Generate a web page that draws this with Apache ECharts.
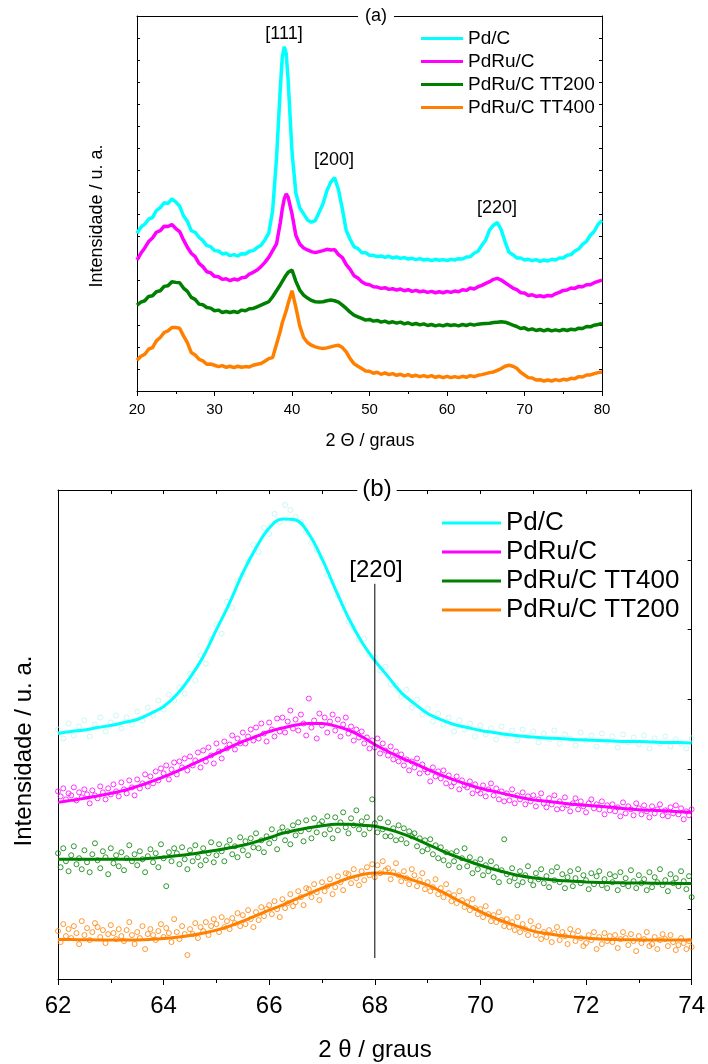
<!DOCTYPE html>
<html>
<head>
<meta charset="utf-8">
<script src="https://cdn.jsdelivr.net/npm/echarts@6/dist/echarts.min.js"></script>
<style>
  html, body { margin: 0; padding: 0; background: #fff; }
  #chart { width: 708px; height: 1064px; }
</style>
</head>
<body>
<div id="chart"></div>
<script>
// ---------- (a) full diffractograms, 2θ = 20–80° ----------
const xA = [
  20,20.5,21,21.5,22,22.5,23,23.5,24,24.5,
  25,25.5,26,26.5,27,27.5,28,28.5,29,29.5,
  30,30.5,31,31.5,32,32.5,33,33.5,34,34.5,
  35,35.5,36,36.5,37,37.5,38,38.5,38.75,39,
  39.25,39.5,40,40.5,41,41.5,42,42.5,43,43.5,
  44,44.5,45,45.5,46,46.5,47,47.5,48,48.5,
  49,49.5,50,50.5,51,51.5,52,52.5,53,53.5,
  54,54.5,55,55.5,56,56.5,57,57.5,58,58.5,
  59,59.5,60,60.5,61,61.5,62,62.5,63,63.5,
  64,64.5,65,65.5,66,66.5,67,67.5,68,68.5,
  69,69.5,70,70.5,71,71.5,72,72.5,73,73.5,
  74,74.5,75,75.5,76,76.5,77,77.5,78,78.5,
  79,79.5,80
];
const pdC_A = [
  472,490,499,514,519,540,549,563,561,575,
  566,553,524,508,480,475,460,450,435,432,
  420,419,410,412,405,408,404,411,410,418,
  420,429,436,452,472,540,695,910,1000,1030,
  1010,930,715,592,548,530,512,505,510,535,
  560,599,625,638,602,544,480,454,432,426,
  414,414,406,406,402,404,400,403,398,401,
  397,399,395,397,393,396,392,394,390,394,
  391,393,390,394,392,396,395,401,402,412,
  418,436,452,482,496,504,482,446,415,408,
  398,398,392,394,390,393,388,392,389,394,
  392,398,398,406,408,419,425,439,448,466,
  478,499,510
];
const pdRuC_A = [
  392,412,428,447,458,475,480,493,492,498,
  486,477,452,430,412,402,382,372,357,354,
  343,342,334,336,330,335,332,339,340,350,
  355,362,372,385,400,420,440,505,545,575,
  590,580,530,465,440,428,422,417,414,417,
  420,424,422,423,408,399,378,364,345,338,
  327,320,318,312,311,307,309,304,306,302,
  305,300,303,298,301,297,299,295,298,294,
  297,294,298,295,299,297,303,301,308,305,
  312,316,322,327,334,337,332,324,316,308,
  303,294,293,286,288,283,285,282,286,284,
  291,295,301,302,308,307,313,312,318,318,
  324,328,332
];
const tt200_A = [
  257,266,270,283,285,297,300,313,315,327,
  325,324,308,298,280,274,260,258,250,248,
  240,242,235,238,235,238,235,242,240,246,
  247,252,257,262,267,282,300,318,328,338,
  347,355,362,328,302,287,278,271,267,266,
  267,270,272,270,266,257,247,236,227,222,
  217,212,214,209,211,206,209,204,207,203,
  206,201,204,199,202,198,201,196,199,195,
  198,195,199,196,198,195,199,196,200,197,
  200,201,202,203,205,206,207,206,202,197,
  193,187,189,183,186,181,184,180,184,180,
  183,180,184,181,185,183,188,187,193,192,
  197,199,202
];
const tt400_A = [
  92,104,110,125,130,150,160,175,180,190,
  190,188,165,145,115,108,95,90,80,81,
  77,73,76,71,74,70,74,71,73,72,
  77,80,82,89,97,100,140,180,205,222,
  240,262,300,250,195,160,145,137,132,129,
  127,129,132,135,137,130,117,97,82,74,
  67,60,59,53,56,50,54,49,52,47,
  50,45,49,44,47,43,46,42,46,41,
  44,40,44,40,43,40,44,41,46,43,
  47,49,52,55,57,62,67,74,77,74,
  68,56,48,40,39,33,34,30,33,30,
  34,31,35,33,38,37,43,42,48,48,
  52,55,57
];

// ---------- (b) [220] region, 2θ = 62–74° ----------
const scanStart = 62, scanStep = 0.05;      // measured points
const pdC_scanStep = 0.1;
const fitStep = 0.25;                        // fitted profiles

const pdC_pts = [
  250,241,256,244,253,259,243,255,262,248,
  257,264,251,262,255,268,259,272,264,279,
  270,285,279,292,286,306,299,324,316,341,
  355,346,378,372,399,405,418,435,428,452,
  446,466,458,475,470,463,458,448,437,430,
  422,405,398,384,376,358,352,340,341,325,
  322,309,313,295,294,283,290,272,280,265,
  271,258,266,255,262,248,259,250,256,243,
  254,245,251,240,253,244,249,239,250,243,
  248,237,246,240,249,236,245,241,234,247,
  239,244,233,246,238,243,232,245,237,242,
  235,244,231,241,236,243,233,240,236,231,
  241
];
const pdRuC_pts = [
  188,183,191,180,186, 184,192,179,187,182, 190,185,176,189,184, 181,193,187,180,191,
  185,195,188,183,197, 190,186,199,192,184, 200,191,196,205,193, 203,196,208,199,211,
  206,214,200,210,217, 205,218,212,221,209, 223,214,219,227,212, 229,218,232,224,216,
  236,228,221,238,231, 235,244,230,241,236, 247,236,243,250,239, 252,241,256,246,238,
  257,250,243,261,248, 262,247,258,269,251, 260,249,265,256,244, 281,252,259,241,266,
  254,262,247,258,265, 249,260,243,255,262, 246,253,239,250,242, 248,236,242,231,239,
  232,241,226,236,229, 224,233,220,228,218, 225,214,220,209,218, 212,221,206,215,210,
  207,198,212,203,208, 201,209,196,204,193, 197,203,190,199,194, 192,198,186,195,189,
  186,194,183,190,196, 184,191,180,188,178, 186,179,190,176,184, 180,187,175,183,178,
  184,173,180,186,176, 172,181,175,184,170, 178,171,182,174,168, 176,181,170,178,173,
  167,176,180,171,175, 170,178,165,174,169, 175,168,172,163,177, 166,173,170,164,176,
  171,165,174,168,162, 173,166,170,175,164, 169,163,172,166,174, 165,171,160,168,164,
  170
];
const tt400_pts = [
  126,112,131,118,108, 124,133,115,121,110, 129,117,107,125,136, 119,111,128,122,105,
  131,116,124,113,127, 109,121,134,118,125, 114,128,120,107,123, 130,117,126,112,135,
  121,93,127,118,131, 126,115,132,120,110, 129,118,134,122,114, 131,119,126,137,117,
  124,135,128,118,133, 139,125,133,122,142, 129,138,124,141,132, 146,131,139,127,143,
  136,150,141,130,147, 152,139,148,135,154, 144,157,148,138,159, 150,141,161,147,155,
  158,145,163,150,141, 162,149,157,167,152, 146,161,154,169,150, 158,145,162,151,180,
  156,147,161,150,143, 157,143,151,139,154, 140,151,136,148,143, 146,133,141,128,139,
  130,140,125,134,121, 132,119,127,114,126, 118,128,112,121,131, 113,122,106,117,110,
  120,104,114,108,118, 102,112,97,109,140, 105,98,111,101,94, 108,97,104,113,99,
  94,106,100,110,96, 103,92,108,99,112, 97,105,91,102,108, 93,101,110,96,104,
  99,90,106,95,103, 108,94,100,91,105, 97,103,89,107,95, 101,93,109,98,91,
  104,96,100,89,107, 92,102,97,110,94, 99,88,105,96,101, 93,108,98,90,103,
  82
];
const tt200_pts = [
  48,37,55,43,50, 41,53,46,35,58, 44,51,39,47,56, 52,42,49,36,45,
  54,46,40,50,43, 38,49,57,44,35, 47,41,53,30,45, 50,44,39,48,55,
  42,51,46,37,60, 47,40,53,45,24, 50,45,56,41,52, 48,57,44,53,60,
  55,47,62,52,58, 50,61,56,66,53, 64,55,69,60,52, 67,59,72,63,70,
  74,65,78,70,62, 80,71,76,85,73, 77,88,82,74,91, 90,82,95,87,79,
  97,88,93,100,85, 92,103,97,89,106, 105,96,110,101,94, 108,99,112,104,115,
  102,114,106,118,109, 111,100,107,116,104, 98,108,101,95,110, 104,93,99,106,90,
  97,88,92,100,85, 91,82,95,86,78, 84,76,88,79,72, 77,69,80,71,65,
  70,62,73,65,58, 64,57,67,59,53, 60,52,57,49,62, 47,55,50,44,58,
  51,44,53,40,47, 42,49,37,46,52, 39,47,43,35,50, 45,38,48,41,33,
  36,44,39,47,30, 42,35,46,38,43, 37,44,31,40,47, 41,34,45,38,28,
  43,36,40,47,33, 35,42,30,39,45, 40,33,44,37,29, 34,41,36,30,38,
  32
];

const pdC_fit = [246,248,249.5,252,254,257,260,266,273,285,302,323,350,377,407,432,452,461,460,446,421,391,362,338,319,303,287,276,266,260,255,252,249,247,245,243.5,242.5,241.5,241,240,239.5,239,238.5,238,238,237.5,237,237,236.5];
const pdRuC_fit = [177,179,181,183.5,186,189,193,197.5,202.5,208,214,220,226,232,238,243,248,251.5,254.5,256,256,253.5,249.5,243,235,228,221.5,216,210,204.5,199.5,195,191,188,185,182,179.5,178,176.5,175,174,173,172,170.5,169.5,169,168.5,167.5,167];
const tt400_fit = [120,120,120,120,120,120,120,121,122,123.5,125,127,129,131.5,134,137.5,141.5,146,149,151.5,153.5,155,155,154,153,150,146,141,135,129,123.5,118.5,114,110,106.5,103.5,101.5,100,98.8,98,97.3,96.8,96.5,96.3,96.2,96,96,95.8,95.7];
const tt200_fit = [39.7,39.5,39.3,39.2,39,39,39.2,39.7,40.5,41.8,43.5,46,49,53,58,63.5,69,74,80,85.5,91,96,101,104.5,106.3,106,103,98.5,94,88,81,74,67.5,61.5,56.5,52,48,45.5,43.5,42,41,40,39.5,39.3,39.2,39.1,39,39,39];

// reference position of the [220] reflection
const ref220X = [68, 68];
const ref220Y = [21, 396];

// ---------- helpers ----------
const FONT = "'Liberation Sans', Arial, Helvetica, sans-serif";
const COL = { cyan: '#00ffff', magenta: '#ff00ff', green: '#008000', orange: '#ff8000', cyanPts: '#bdf4f4' };

const stepGrid = (start, step, n) => Array.from({ length: n }, (_, i) => +(start + i * step).toFixed(3));
const pairs = (xs, ys) => ys.map((y, i) => [xs[i], y]);

const xScan = stepGrid(scanStart, scanStep, pdRuC_pts.length);
const xScanPdC = stepGrid(scanStart, pdC_scanStep, pdC_pts.length);
const xFit = stepGrid(scanStart, fitStep, pdC_fit.length);

const black = { color: '#000', width: 1 };
const frameLine = { show: true, onZero: false, lineStyle: black };

function lineA(name, ys, color) {
  return {
    type: 'line', name, xAxisIndex: 0, yAxisIndex: 0,
    data: pairs(xA, ys), symbol: 'none', showSymbol: false, smooth: false,
    lineStyle: { color, width: 3.5 }, itemStyle: { color }, z: 2
  };
}
function scatterB(name, xs, ys, color) {
  return {
    type: 'scatter', name, xAxisIndex: 2, yAxisIndex: 2,
    data: pairs(xs, ys), symbol: 'circle', symbolSize: 5, silent: true,
    itemStyle: { color: 'rgba(0,0,0,0)', borderColor: color, borderWidth: 1 }, z: 2
  };
}
function fitB(name, ys, color) {
  return {
    type: 'line', name: name + ' (b)', xAxisIndex: 2, yAxisIndex: 2,
    data: pairs(xFit, ys), symbol: 'none', showSymbol: false, smooth: 0.4,
    lineStyle: { color, width: 3 }, itemStyle: { color }, z: 4
  };
}
function label(text, x, y, size, extra) {
  const base = {
    type: 'text', x, y, silent: true, z: 100,
    style: { text, fill: '#000', fontSize: size, fontFamily: FONT,
             align: 'center', verticalAlign: 'middle', textAlign: 'center', textVerticalAlign: 'middle' }
  };
  if (extra && extra.style) { Object.assign(base.style, extra.style); delete extra.style; }
  return Object.assign(base, extra || {});
}

const chart = echarts.init(document.getElementById('chart'), null, { renderer: 'canvas' });

chart.setOption({
  animation: false,
  backgroundColor: '#fff',
  textStyle: { fontFamily: FONT },
  grid: [
    { left: 137, top: 16, width: 465, height: 375 },
    { left: 58, top: 490, width: 634, height: 489 }
  ],
  xAxis: [
    { gridIndex: 0, type: 'value', position: 'bottom', min: 20, max: 80, interval: 10,
      axisLine: frameLine, axisTick: { length: 5, lineStyle: black },
      minorTick: { show: true, splitNumber: 2, length: 3, lineStyle: black },
      axisLabel: { fontSize: 15, color: '#000', margin: 11, fontFamily: FONT },
      splitLine: { show: false } },
    { gridIndex: 0, type: 'value', position: 'top', min: 20, max: 80,
      axisLine: frameLine, axisTick: { show: false }, axisLabel: { show: false },
      splitLine: { show: false } },
    { gridIndex: 1, type: 'value', position: 'bottom', min: 62, max: 74, interval: 2,
      axisLine: frameLine, axisTick: { length: 6, lineStyle: black },
      minorTick: { show: true, splitNumber: 2, length: 4, lineStyle: black },
      axisLabel: { fontSize: 24, color: '#000', margin: 15, fontFamily: FONT },
      splitLine: { show: false } },
    { gridIndex: 1, type: 'value', position: 'top', min: 62, max: 74, interval: 1,
      axisLine: frameLine, axisTick: { inside: true, length: 4, lineStyle: black },
      axisLabel: { show: false }, splitLine: { show: false } }
  ],
  yAxis: [
    { gridIndex: 0, type: 'value', position: 'left', min: 0, max: 1122, interval: 66,
      axisLine: frameLine, axisTick: { show: true, inside: true, length: 3, lineStyle: black },
      axisLabel: { show: false }, splitLine: { show: false } },
    { gridIndex: 0, type: 'value', position: 'right', min: 0, max: 1122, interval: 66,
      axisLine: frameLine, axisTick: { show: true, inside: true, length: 3, lineStyle: black },
      axisLabel: { show: false }, splitLine: { show: false } },
    { gridIndex: 1, type: 'value', position: 'left', min: 0, max: 490, interval: 70,
      axisLine: frameLine, axisTick: { show: false },
      axisLabel: { show: false }, splitLine: { show: false } },
    { gridIndex: 1, type: 'value', position: 'right', min: 0, max: 490, interval: 70,
      axisLine: frameLine, axisTick: { show: true, inside: true, length: 4, lineStyle: black },
      axisLabel: { show: false }, splitLine: { show: false } }
  ],
  legend: [
    { orient: 'vertical', left: 421, top: 29, padding: 0, itemWidth: 42, itemHeight: 3, itemGap: 4,
      icon: 'rect', selectedMode: false, textStyle: { fontSize: 19, color: '#000', fontFamily: FONT },
      data: ['Pd/C', 'PdRu/C', 'PdRu/C TT200', 'PdRu/C TT400'] },
    { orient: 'vertical', left: 442, top: 510, padding: 0, itemWidth: 59, itemHeight: 3, itemGap: 3,
      icon: 'rect', selectedMode: false, textStyle: { fontSize: 26, color: '#000', fontFamily: FONT },
      formatter: n => n.replace(' (b)', ''),
      data: ['Pd/C (b)', 'PdRu/C (b)', 'PdRu/C TT400 (b)', 'PdRu/C TT200 (b)'] }
  ],
  graphic: [
    label('(a)', 376, 16, 18, { style: { backgroundColor: '#fff', padding: [0, 7] } }),
    label('(b)', 377, 489, 24, { style: { backgroundColor: '#fff', padding: [0, 5] } }),
    label('[111]', 284, 34, 18),
    label('[200]', 334, 160, 18),
    label('[220]', 497, 208, 18),
    label('[220]', 376, 570, 24),
    label('2 \u0398 / graus', 370, 441, 18),
    label('Intensidade / u. a.', 97, 216, 18, { rotation: Math.PI / 2 }),
    label('2 \u03b8 / graus', 375, 1050, 24),
    label('Intensidade / u. a.', 24, 751, 24, { rotation: Math.PI / 2 })
  ],
  series: [
    lineA('Pd/C', pdC_A, COL.cyan),
    lineA('PdRu/C', pdRuC_A, COL.magenta),
    lineA('PdRu/C TT200', tt200_A, COL.green),
    lineA('PdRu/C TT400', tt400_A, COL.orange),

    scatterB('Pd/C medido', xScanPdC, pdC_pts, COL.cyanPts),
    scatterB('PdRu/C medido', xScan, pdRuC_pts, COL.magenta),
    scatterB('PdRu/C TT400 medido', xScan, tt400_pts, COL.green),
    scatterB('PdRu/C TT200 medido', xScan, tt200_pts, COL.orange),

    fitB('Pd/C', pdC_fit, COL.cyan),
    fitB('PdRu/C', pdRuC_fit, COL.magenta),
    fitB('PdRu/C TT400', tt400_fit, COL.green),
    fitB('PdRu/C TT200', tt200_fit, COL.orange),

    { type: 'line', name: '[220]', xAxisIndex: 2, yAxisIndex: 2, data: pairs(ref220X, ref220Y),
      symbol: 'none', silent: true, lineStyle: { color: '#000', width: 1 }, z: 5 }
  ]
});
</script>
</body>
</html>
